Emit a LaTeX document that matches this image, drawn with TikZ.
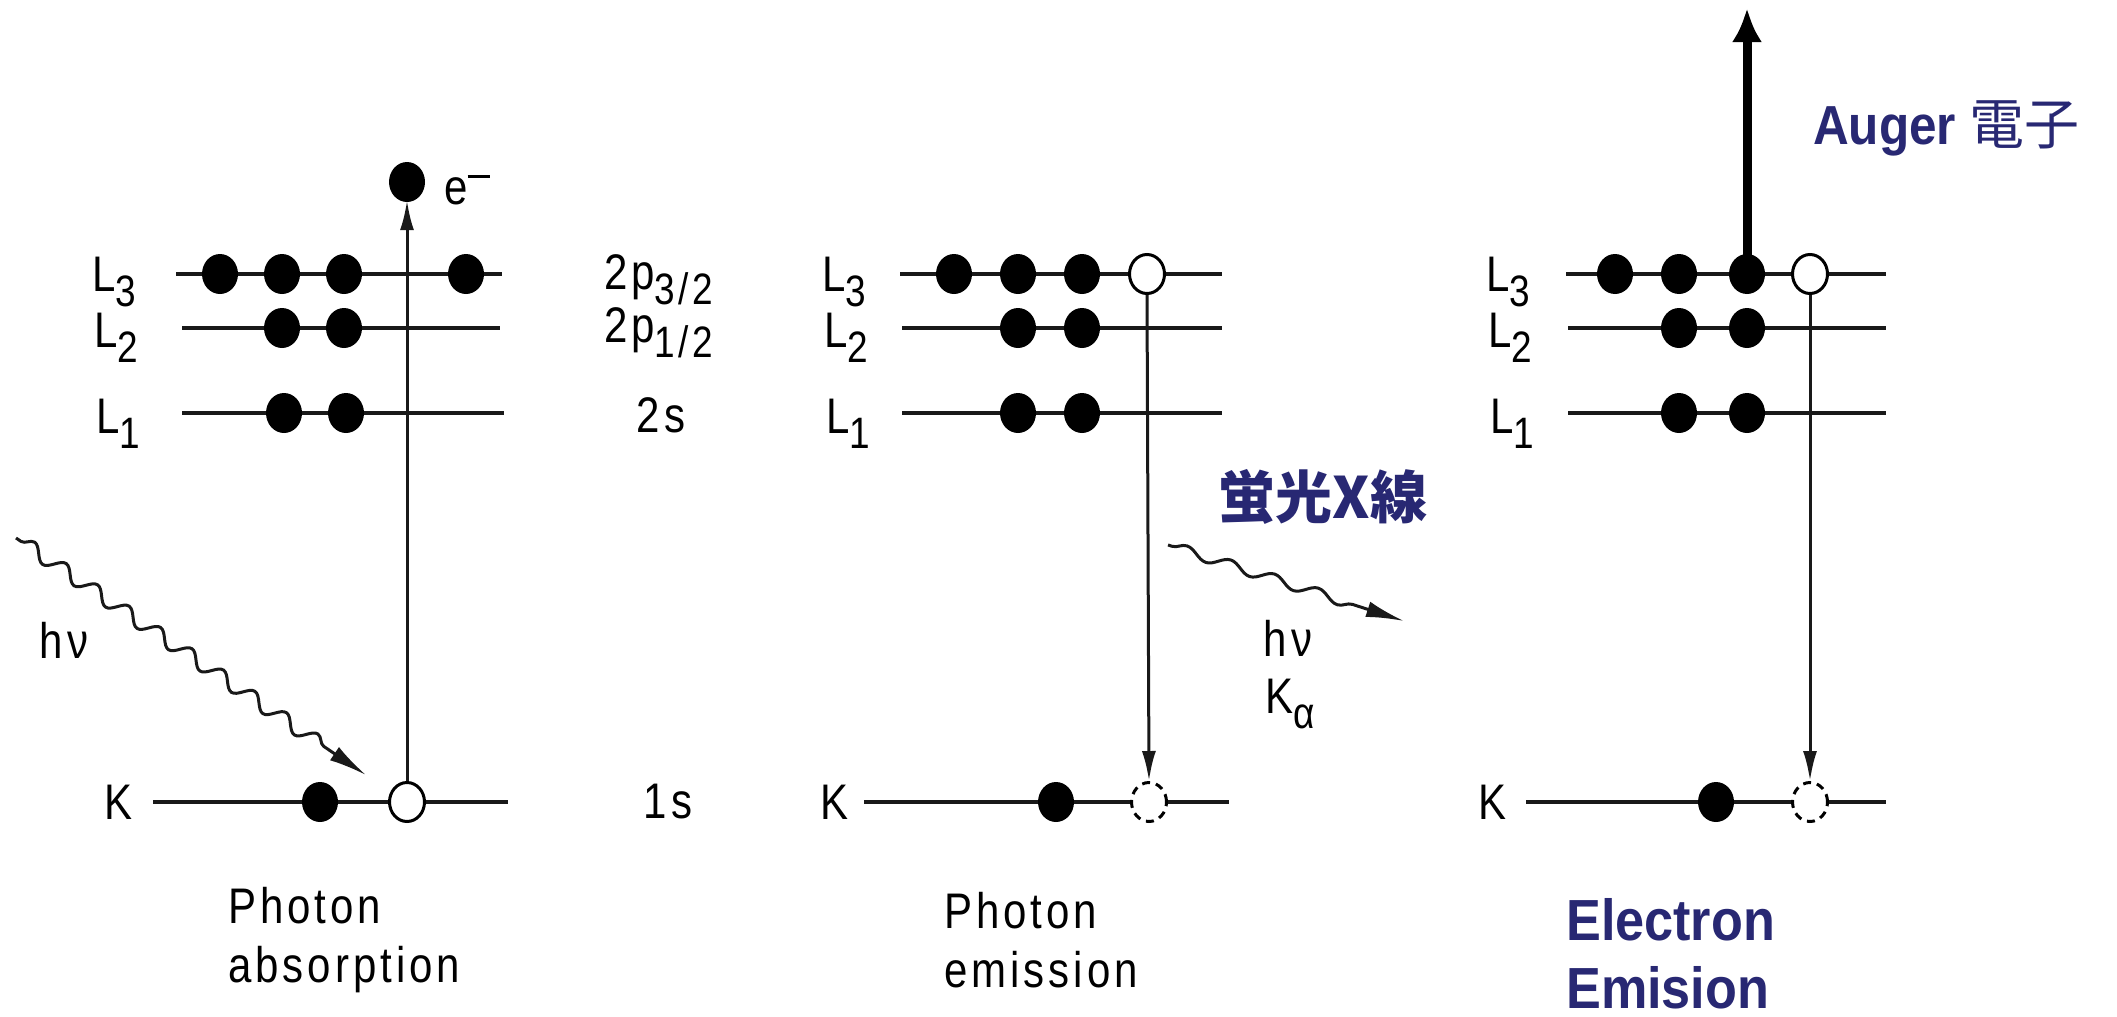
\documentclass[tikz,border=0pt]{standalone}
\usepackage{fontspec}
\setmainfont{Liberation Sans}[LetterSpace=8, FakeStretch=0.84]
\newfontfamily\bluefont{Liberation Sans}[FakeStretch=0.9]
\newfontfamily\cjkfont{Noto Sans CJK JP}
\usetikzlibrary{arrows.meta,shapes.geometric,decorations.pathmorphing}
\definecolor{navy}{RGB}{40,40,115}
\definecolor{ink}{RGB}{25,25,25}
\tikzset{
  level/.style={line width=4.5pt, ink},
  edot/.style={ellipse, fill=black, minimum width=36pt, minimum height=40pt, inner sep=0pt},
  hole/.style={ellipse, draw=black, fill=white, line width=3pt, minimum width=35pt, minimum height=39pt, inner sep=0pt},
  dhole/.style={hole, dash pattern=on 8pt off 6pt},
  trans/.style={line width=3pt, ink, -{Latex[length=30pt,width=14pt]}},
  wave/.style={line width=3pt, ink, decorate, -{Latex[length=38pt,width=16pt]}},
  lab/.style={inner sep=0pt, font=\fontsize{50}{55}\selectfont},
  bluetxt/.style={inner sep=0pt, text=navy, align=left}
}
\newcommand{\lsub}[1]{\raisebox{-15pt}{\fontsize{44}{44}\selectfont #1}}
\begin{document}
\begin{tikzpicture}[x=1pt,y=-1pt]
\fill[white] (0,0) rectangle (2117,1017);
\useasboundingbox (0,0) rectangle (2117,1017);

% ---------------- Left panel: Photon absorption ----------------
\coordinate (a3s) at (176,274); \coordinate (a3e) at (502,274);
\coordinate (a2s) at (182,328); \coordinate (a2e) at (500,328);
\coordinate (a1s) at (182,413); \coordinate (a1e) at (504,413);
\coordinate (aKs) at (153,802); \coordinate (aKe) at (508,802);
\draw[level] (a3s) -- (a3e);
\draw[level] (a2s) -- (a2e);
\draw[level] (a1s) -- (a1e);
\draw[level] (aKs) -- (aKe);
\node[edot] (a31) at (220,274) {};
\node[edot] (a32) at (282,274) {};
\node[edot] (a33) at (344,274) {};
\node[edot] (a34) at (466,274) {};
\node[edot] (a21) at (282,328) {};
\node[edot] (a22) at (344,328) {};
\node[edot] (a11) at (284,413) {};
\node[edot] (a12) at (346,413) {};
\node[edot] (aK1) at (320,802) {};
\node[hole] (aK2) at (407,802) {};
\node[edot] (ae) at (407,182) {};
\draw[trans, shorten >=-2pt] (aK2.north) -- (ae.south);
\node[lab, anchor=west] (aL3) at (92,282) {L\lsub{3}};
\node[lab, anchor=west] (aL2) at (94,338) {L\lsub{2}};
\node[lab, anchor=west] (aL1) at (96,424) {L\lsub{1}};
\node[lab, anchor=west] (aK) at (104,802) {K};
\node[lab, anchor=west] (aeL) at (444,190) {e\raisebox{26pt}{\rule{22pt}{3pt}}};
\coordinate (w1s) at (16,538); \coordinate (w1e) at (366,775);
\draw[wave, decoration={snake, segment length=38pt, amplitude=7pt, pre length=6pt, post length=36pt}] (w1s) -- (w1e);
\node[lab] (ahv) at (64,640) {hν};
\node[lab, anchor=west, align=left] (aT) at (228,940) {Photon\\[4pt]absorption};

% ---------------- middle labels ----------------
\node[lab, anchor=west] (s3) at (604,280) {2p\lsub{3/2}};
\node[lab, anchor=west] (s2) at (604,333) {2p\lsub{1/2}};
\node[lab] (s1) at (661,415) {2s};
\node[lab] (s0) at (668,802) {1s};

% ---------------- Middle panel: Photon emission ----------------
\coordinate (b3s) at (900,274); \coordinate (b3e) at (1222,274);
\coordinate (b2s) at (902,328); \coordinate (b2e) at (1222,328);
\coordinate (b1s) at (902,413); \coordinate (b1e) at (1222,413);
\coordinate (bKs) at (864,802); \coordinate (bKe) at (1229,802);
\draw[level] (b3s) -- (b3e);
\draw[level] (b2s) -- (b2e);
\draw[level] (b1s) -- (b1e);
\draw[level] (bKs) -- (bKe);
\node[edot] (b31) at (954,274) {};
\node[edot] (b32) at (1018,274) {};
\node[edot] (b33) at (1082,274) {};
\node[hole] (b34) at (1147,274) {};
\node[edot] (b21) at (1018,328) {};
\node[edot] (b22) at (1082,328) {};
\node[edot] (b11) at (1018,413) {};
\node[edot] (b12) at (1082,413) {};
\node[edot] (bK1) at (1056,802) {};
\node[dhole] (bK2) at (1149,802) {};
\draw[trans] (b34.south) -- (bK2.north);
\node[lab, anchor=west] (bL3) at (822,282) {L\lsub{3}};
\node[lab, anchor=west] (bL2) at (824,338) {L\lsub{2}};
\node[lab, anchor=west] (bL1) at (826,424) {L\lsub{1}};
\node[lab, anchor=west] (bK) at (820,802) {K};
\coordinate (w2s) at (1168,545); \coordinate (w2e) at (1404,621);
\draw[wave, decoration={snake, segment length=46pt, amplitude=5pt, pre length=4pt, post length=36pt}] (w2s) -- (w2e);
\node[lab] (bhv) at (1288,638) {hν};
\node[lab] (bKa) at (1290,704) {K\lsub{α}};
\node[bluetxt, font=\cjkfont\bfseries\fontsize{57}{60}\selectfont] (fx) at (1323,497) {蛍光X線};
\node[lab, anchor=west, align=left] (bT) at (944,940) {Photon\\[4pt]emission};

% ---------------- Right panel: Electron emission ----------------
\coordinate (c3s) at (1566,274); \coordinate (c3e) at (1886,274);
\coordinate (c2s) at (1568,328); \coordinate (c2e) at (1886,328);
\coordinate (c1s) at (1568,413); \coordinate (c1e) at (1886,413);
\coordinate (cKs) at (1526,802); \coordinate (cKe) at (1886,802);
\draw[level] (c3s) -- (c3e);
\draw[level] (c2s) -- (c2e);
\draw[level] (c1s) -- (c1e);
\draw[level] (cKs) -- (cKe);
\node[edot] (c31) at (1615,274) {};
\node[edot] (c32) at (1679,274) {};
\node[edot] (c33) at (1747,274) {};
\node[hole] (c34) at (1810,274) {};
\node[edot] (c21) at (1679,328) {};
\node[edot] (c22) at (1747,328) {};
\node[edot] (c11) at (1679,413) {};
\node[edot] (c12) at (1747,413) {};
\node[edot] (cK1) at (1716,802) {};
\node[dhole] (cK2) at (1810,802) {};
\draw[trans] (c34.south) -- (cK2.north);
\coordinate (ctop) at (1747,8);
\draw[line width=9pt, -{Latex[length=34pt,width=30pt]}] (c33.center) -- (ctop);
\node[lab, anchor=west] (cL3) at (1486,282) {L\lsub{3}};
\node[lab, anchor=west] (cL2) at (1488,338) {L\lsub{2}};
\node[lab, anchor=west] (cL1) at (1490,424) {L\lsub{1}};
\node[lab, anchor=west] (cK) at (1478,802) {K};
\node[bluetxt, anchor=west, font=\bluefont\bfseries\fontsize{55}{60}\selectfont] (aug) at (1813,128) {Auger {\cjkfont\mdseries 電子}};
\node[bluetxt, anchor=west, align=left, font=\bluefont\bfseries\fontsize{58}{68}\selectfont] (cT) at (1566,954) {Electron\\Emision};
\end{tikzpicture}
\end{document}
